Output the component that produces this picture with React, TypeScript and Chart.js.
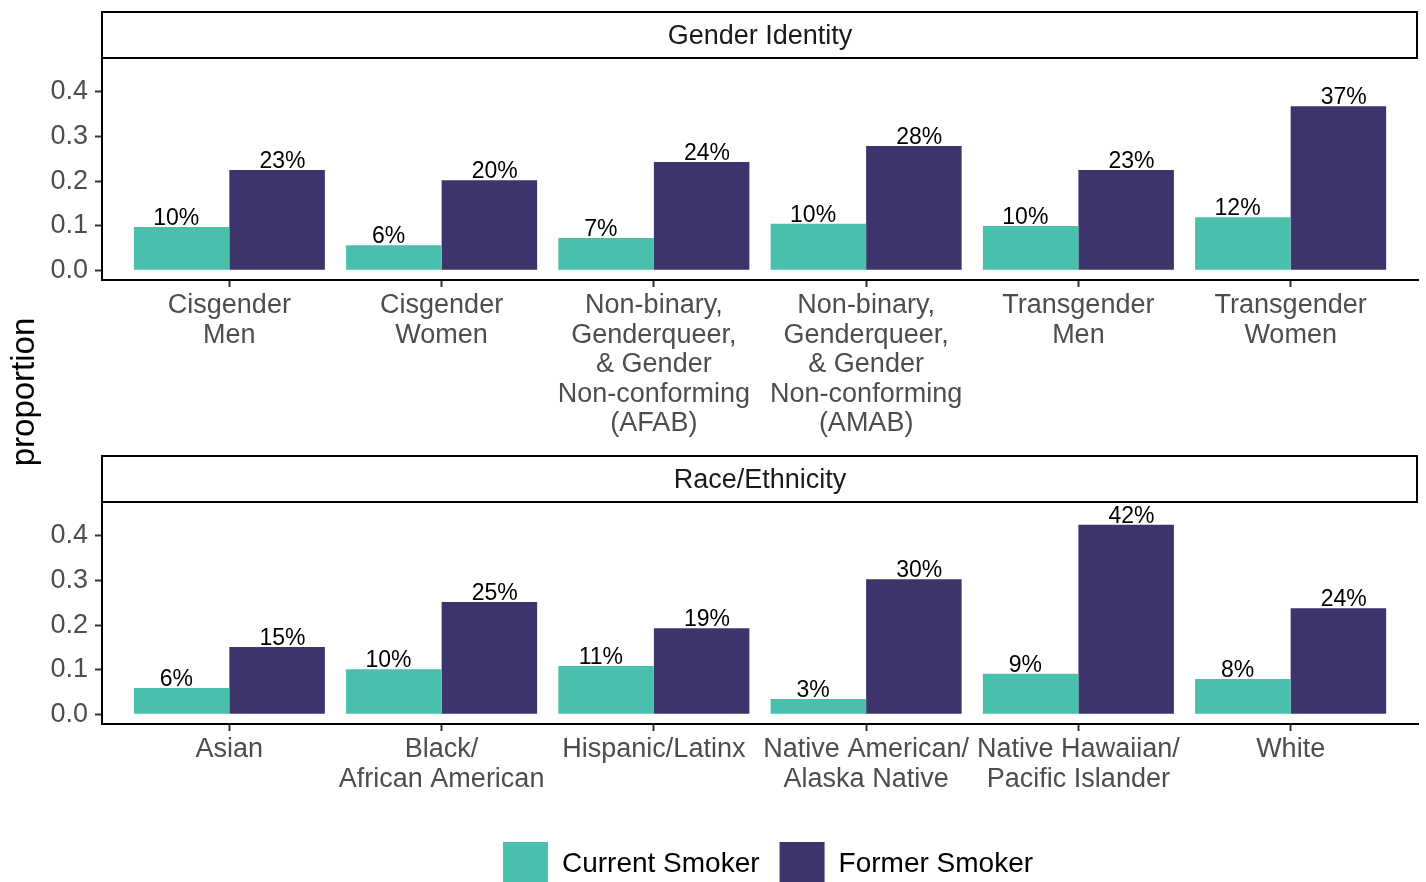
import React, { useEffect, useRef } from 'react';
import { Chart, registerables } from 'chart.js';

Chart.register(...registerables);

// ---------- data ----------
const seriesNames = ['Current Smoker', 'Former Smoker'];

const genderCategories: string[][] = [
  ['Cisgender', 'Men'],
  ['Cisgender', 'Women'],
  ['Non-binary,', 'Genderqueer,', '& Gender', 'Non-conforming', '(AFAB)'],
  ['Non-binary,', 'Genderqueer,', '& Gender', 'Non-conforming', '(AMAB)'],
  ['Transgender', 'Men'],
  ['Transgender', 'Women'],
];
const genderCurrent = [0.097, 0.056, 0.072, 0.104, 0.099, 0.119];
const genderFormer = [0.225, 0.202, 0.243, 0.279, 0.225, 0.368];
const genderCurrentLabels = ['10%', '6%', '7%', '10%', '10%', '12%'];
const genderFormerLabels = ['23%', '20%', '24%', '28%', '23%', '37%'];

const raceCategories: string[][] = [
  ['Asian'],
  ['Black/', 'African American'],
  ['Hispanic/Latinx'],
  ['Native American/', 'Alaska Native'],
  ['Native Hawaiian/', 'Pacific Islander'],
  ['White'],
];
const raceCurrent = [0.059, 0.101, 0.108, 0.034, 0.091, 0.079];
const raceFormer = [0.151, 0.252, 0.193, 0.303, 0.425, 0.238];
const raceCurrentLabels = ['6%', '10%', '11%', '3%', '9%', '8%'];
const raceFormerLabels = ['15%', '25%', '19%', '30%', '42%', '24%'];

const yTickValues = [0, 0.1, 0.2, 0.3, 0.4];
const stripTitles = ['Gender Identity', 'Race/Ethnicity'];
const yAxisTitle = 'proportion';

// ---------- style ----------
const TEAL = '#49C0AC';
const PURPLE = '#3D346B';
const FONT = "'Liberation Sans', Arial, Helvetica, sans-serif";

const stripPlugin = {
  id: 'facetStrip',
  afterDraw(chart: any, _args: any, opts: any) {
    const { ctx, chartArea } = chart;
    const left = chartArea.left;
    const right = chartArea.right;
    const top = opts.top;
    const bottom = chartArea.top;
    ctx.save();
    ctx.fillStyle = '#ffffff';
    ctx.fillRect(left, top, right - left, bottom - top);
    ctx.strokeStyle = '#000000';
    ctx.lineWidth = 2;
    ctx.strokeRect(left, top + 1, right - left - 1, bottom - top - 2);
    ctx.fillStyle = '#1A1A1A';
    ctx.font = `27px ${FONT}`;
    ctx.textAlign = 'center';
    ctx.textBaseline = 'alphabetic';
    ctx.fillText(opts.text, (left + right) / 2, opts.baseline);
    ctx.restore();
  },
};

const barLabelPlugin = {
  id: 'barLabels',
  afterDatasetsDraw(chart: any, _args: any, opts: any) {
    const { ctx } = chart;
    const xs = chart.scales.x;
    const ys = chart.scales.y;
    ctx.save();
    ctx.fillStyle = '#000000';
    ctx.font = `23px ${FONT}`;
    ctx.textAlign = 'center';
    ctx.textBaseline = 'alphabetic';
    chart.data.datasets.forEach((ds: any, d: number) => {
      const off = d === 0 ? -opts.dodge : opts.dodge;
      ds.data.forEach((pt: any, i: number) => {
        const x = xs.getPixelForValue(pt.x + off);
        const y = ys.getPixelForValue(pt.y) - 2;
        ctx.fillText(opts.labels[d][i], x, y);
      });
    });
    ctx.restore();
  },
};

const yTitlePlugin = {
  id: 'yTitle',
  afterDraw(chart: any, _args: any, opts: any) {
    if (!opts || !opts.text) return;
    const { ctx } = chart;
    ctx.save();
    ctx.translate(opts.x, opts.y);
    ctx.rotate(-Math.PI / 2);
    ctx.fillStyle = '#000000';
    ctx.font = `33px ${FONT}`;
    ctx.textAlign = 'center';
    ctx.textBaseline = 'alphabetic';
    ctx.fillText(opts.text, 0, 0);
    ctx.restore();
  },
};

const legendShiftPlugin = {
  id: 'legendShift',
  afterLayout(chart: any, _args: any, opts: any) {
    if (chart.legend && opts && opts.shift) {
      chart.legend.left += opts.shift;
      chart.legend.right += opts.shift;
    }
  },
};

function buildConfig(
  categories: string[][],
  current: number[],
  former: number[],
  currentLabels: string[],
  formerLabels: string[],
  strip: string,
  xAxisHeight: number,
  withLegend: boolean,
  withYTitle: boolean
): any {
  return {
    type: 'bar',
    data: {
      datasets: [
        {
          label: seriesNames[0],
          data: current.map((v, i) => ({ x: i + 1, y: v })),
          backgroundColor: TEAL,
          borderWidth: 0,
          categoryPercentage: 0.9,
          barPercentage: 1,
        },
        {
          label: seriesNames[1],
          data: former.map((v, i) => ({ x: i + 1, y: v })),
          backgroundColor: PURPLE,
          borderWidth: 0,
          categoryPercentage: 0.9,
          barPercentage: 1,
        },
      ],
    },
    options: {
      responsive: false,
      maintainAspectRatio: false,
      animation: false,
      events: [],
      layout: { padding: { top: 59, right: 8, left: 0, bottom: 0 } },
      scales: {
        x: {
          type: 'linear',
          min: 0.4,
          max: 6.6,
          bounds: 'data',
          offset: false,
          afterBuildTicks: (s: any) => {
            s.ticks = categories.map((_, i) => ({ value: i + 1 }));
          },
          afterFit: (s: any) => {
            s.height = xAxisHeight;
          },
          grid: {
            offset: false,
            drawOnChartArea: false,
            drawTicks: true,
            tickLength: 7,
            tickWidth: 2,
            tickColor: '#333333',
            color: '#333333',
          },
          border: { display: true, color: '#000000', width: 2 },
          ticks: {
            autoSkip: false,
            maxRotation: 0,
            minRotation: 0,
            padding: 4,
            color: '#4D4D4D',
            font: { family: FONT, size: 27, lineHeight: 1.093 },
            callback: (v: any) => categories[Math.round(Number(v)) - 1],
          },
        },
        y: {
          type: 'linear',
          min: -0.022,
          max: 0.474,
          bounds: 'data',
          afterBuildTicks: (s: any) => {
            s.ticks = yTickValues.map((v) => ({ value: v }));
          },
          afterFit: (s: any) => {
            s.width = 102;
          },
          grid: {
            drawOnChartArea: false,
            drawTicks: true,
            tickLength: 7,
            tickWidth: 2,
            tickColor: '#333333',
            color: '#333333',
          },
          border: { display: true, color: '#000000', width: 2 },
          ticks: {
            padding: 7,
            color: '#4D4D4D',
            font: { family: FONT, size: 27 },
            callback: (v: any) => Number(v).toFixed(1),
          },
        },
      },
      plugins: {
        legend: withLegend
          ? {
              display: true,
              position: 'bottom',
              fullSize: false,
              align: 'center',
              labels: {
                boxWidth: 45,
                boxHeight: 45,
                padding: 20,
                color: '#000000',
                font: { family: FONT, size: 28 },
              },
            }
          : { display: false },
        tooltip: { enabled: false },
        facetStrip: { text: strip, top: 11, baseline: 44 },
        barLabels: { labels: [currentLabels, formerLabels], dodge: 0.25 },
        yTitle: withYTitle ? { text: yAxisTitle, x: 34, y: 392 } : { text: '' },
        legendShift: { shift: withLegend ? 8 : 0 },
      },
    },
    plugins: [stripPlugin, barLabelPlugin, yTitlePlugin, legendShiftPlugin],
  };
}

export default function App() {
  const topRef = useRef<HTMLCanvasElement>(null);
  const bottomRef = useRef<HTMLCanvasElement>(null);

  useEffect(() => {
    const c1 = new Chart(
      topRef.current as HTMLCanvasElement,
      buildConfig(
        genderCategories,
        genderCurrent,
        genderFormer,
        genderCurrentLabels,
        genderFormerLabels,
        stripTitles[0],
        190,
        false,
        true
      )
    );
    const c2 = new Chart(
      bottomRef.current as HTMLCanvasElement,
      buildConfig(
        raceCategories,
        raceCurrent,
        raceFormer,
        raceCurrentLabels,
        raceFormerLabels,
        stripTitles[1],
        98,
        true,
        false
      )
    );
    return () => {
      c1.destroy();
      c2.destroy();
    };
  }, []);

  return (
    <div
      style={{
        position: 'absolute',
        left: 0,
        top: 0,
        width: 1426,
        height: 882,
        overflow: 'hidden',
        background: '#ffffff',
      }}
    >
      <canvas
        ref={topRef}
        width={1426}
        height={470}
        style={{ position: 'absolute', left: 0, top: 0 }}
      />
      <canvas
        ref={bottomRef}
        width={1426}
        height={453}
        style={{ position: 'absolute', left: 0, top: 444 }}
      />
    </div>
  );
}
